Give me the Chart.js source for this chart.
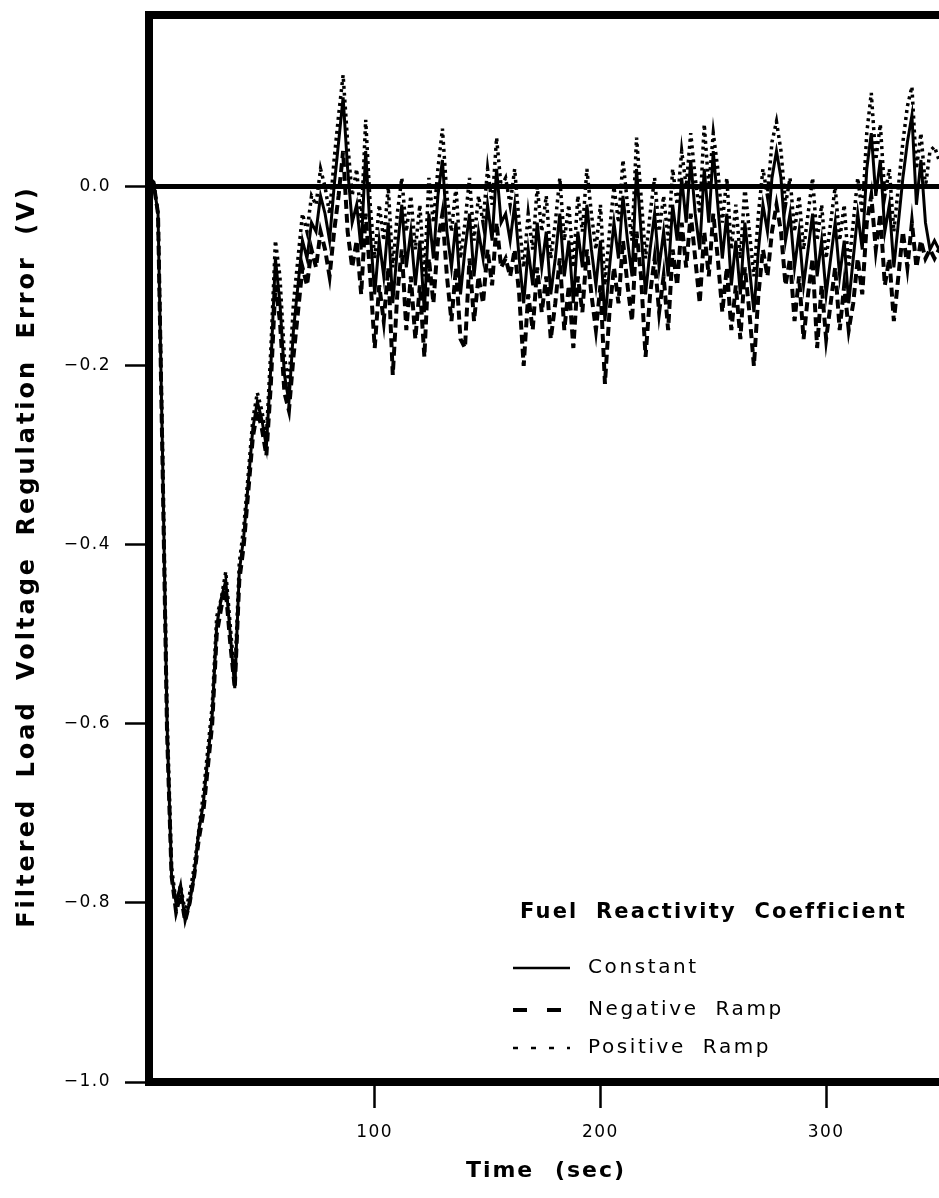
<!DOCTYPE html>
<html>
<head>
<meta charset="utf-8">
<script src="https://cdn.jsdelivr.net/npm/chart.js@4.4.1/dist/chart.umd.min.js"></script>
<style>
  html, body { margin: 0; padding: 0; background: #fff; }
  canvas { display: block; }
</style>
</head>
<body>
<canvas id="grafico" width="939" height="1198"></canvas>
<script>
// tempo (s), uma amostra a cada 2 s
const times = [
  0, 2, 4, 6, 8, 10, 12, 14, 16, 18,
  20, 22, 24, 26, 28, 30, 32, 34, 36, 38,
  40, 42, 44, 46, 48, 50, 52, 54, 56, 58,
  60, 62, 64, 66, 68, 70, 72, 74, 76, 78,
  80, 82, 84, 86, 88, 90, 92, 94, 96, 98,
  100, 102, 104, 106, 108, 110, 112, 114, 116, 118,
  120, 122, 124, 126, 128, 130, 132, 134, 136, 138,
  140, 142, 144, 146, 148, 150, 152, 154, 156, 158,
  160, 162, 164, 166, 168, 170, 172, 174, 176, 178,
  180, 182, 184, 186, 188, 190, 192, 194, 196, 198,
  200, 202, 204, 206, 208, 210, 212, 214, 216, 218,
  220, 222, 224, 226, 228, 230, 232, 234, 236, 238,
  240, 242, 244, 246, 248, 250, 252, 254, 256, 258,
  260, 262, 264, 266, 268, 270, 272, 274, 276, 278,
  280, 282, 284, 286, 288, 290, 292, 294, 296, 298,
  300, 302, 304, 306, 308, 310, 312, 314, 316, 318,
  320, 322, 324, 326, 328, 330, 332, 334, 336, 338,
  340, 342, 344, 346, 348, 350
];

// Constant
const constante = [
  0.01, 0.005, -0.03, -0.30, -0.60, -0.77, -0.80, -0.78, -0.82, -0.80,
  -0.77, -0.72, -0.69, -0.64, -0.59, -0.49, -0.46, -0.44, -0.50, -0.56,
  -0.43, -0.39, -0.33, -0.27, -0.24, -0.26, -0.29, -0.20, -0.08, -0.13,
  -0.21, -0.24, -0.16, -0.11, -0.06, -0.08, -0.04, -0.05, -0.01, -0.03,
  -0.06, 0.00, 0.05, 0.10, 0.02, -0.04, -0.02, -0.07, 0.04, -0.05,
  -0.12, -0.06, -0.10, -0.04, -0.13, -0.07, -0.02, -0.09, -0.05, -0.11,
  -0.06, -0.14, -0.03, -0.08, -0.01, 0.03, -0.05, -0.09, -0.04, -0.12,
  -0.07, -0.03, -0.10, -0.05, -0.08, -0.02, -0.06, 0.02, -0.04, -0.03,
  -0.06, -0.02, -0.08, -0.13, -0.07, -0.11, -0.04, -0.09, -0.05, -0.12,
  -0.08, -0.03, -0.10, -0.06, -0.13, -0.05, -0.09, -0.02, -0.07, -0.11,
  -0.06, -0.15, -0.09, -0.04, -0.08, -0.01, -0.06, -0.10, 0.02, -0.05,
  -0.12, -0.07, -0.03, -0.09, -0.05, -0.10, -0.02, -0.06, 0.01, -0.04,
  0.03, -0.03, -0.07, 0.02, -0.04, 0.04, -0.02, -0.08, -0.03, -0.11,
  -0.06, -0.12, -0.04, -0.09, -0.14, -0.07, -0.02, -0.05, 0.01, 0.04,
  0.01, -0.06, -0.03, -0.09, -0.05, -0.11, -0.07, -0.03, -0.10, -0.06,
  -0.12, -0.08, -0.04, -0.10, -0.06, -0.13, -0.08, -0.03, -0.07, 0.02,
  0.06, -0.01, 0.03, -0.05, -0.02, -0.09, -0.04, 0.01, 0.05, 0.08,
  -0.02, 0.03, -0.04, -0.07, -0.06, -0.07
];

// Negative Ramp
const rampaNeg = [
  0.01, 0.005, -0.03, -0.31, -0.61, -0.77, -0.81, -0.79, -0.82, -0.80,
  -0.77, -0.73, -0.70, -0.65, -0.60, -0.50, -0.47, -0.45, -0.51, -0.56,
  -0.44, -0.40, -0.34, -0.28, -0.25, -0.27, -0.30, -0.22, -0.11, -0.15,
  -0.23, -0.25, -0.19, -0.14, -0.09, -0.11, -0.07, -0.09, -0.05, -0.07,
  -0.10, -0.05, -0.01, 0.04, -0.05, -0.09, -0.06, -0.12, -0.03, -0.10,
  -0.18, -0.11, -0.15, -0.09, -0.21, -0.12, -0.07, -0.16, -0.10, -0.17,
  -0.11, -0.19, -0.08, -0.13, -0.06, -0.03, -0.10, -0.15, -0.09, -0.17,
  -0.18, -0.08, -0.15, -0.10, -0.13, -0.07, -0.11, -0.04, -0.09, -0.08,
  -0.10, -0.07, -0.12, -0.20, -0.12, -0.16, -0.09, -0.14, -0.10, -0.17,
  -0.13, -0.08, -0.16, -0.11, -0.18, -0.10, -0.14, -0.07, -0.12, -0.16,
  -0.11, -0.22, -0.14, -0.09, -0.13, -0.06, -0.11, -0.15, -0.05, -0.10,
  -0.19, -0.12, -0.08, -0.14, -0.10, -0.16, -0.07, -0.11, -0.04, -0.09,
  -0.03, -0.08, -0.13, -0.05, -0.10, -0.03, -0.08, -0.14, -0.09, -0.16,
  -0.11, -0.17, -0.09, -0.14, -0.20, -0.12, -0.07, -0.10, -0.05, -0.02,
  -0.05, -0.11, -0.08, -0.15, -0.10, -0.17, -0.12, -0.08, -0.18, -0.11,
  -0.17, -0.13, -0.09, -0.16, -0.11, -0.16, -0.13, -0.08, -0.12, -0.04,
  -0.01, -0.07, -0.03, -0.11, -0.08, -0.15, -0.10, -0.05, -0.09, -0.04,
  -0.09, -0.06, -0.08, -0.07, -0.08, -0.07
];

// Positive Ramp
const rampaPos = [
  0.01, 0.005, -0.03, -0.29, -0.59, -0.76, -0.80, -0.78, -0.81, -0.79,
  -0.76, -0.72, -0.68, -0.63, -0.58, -0.48, -0.46, -0.43, -0.49, -0.55,
  -0.42, -0.38, -0.32, -0.26, -0.23, -0.25, -0.28, -0.18, -0.06, -0.10,
  -0.19, -0.22, -0.13, -0.08, -0.03, -0.05, -0.01, -0.02, 0.02, 0.00,
  -0.03, 0.03, 0.08, 0.125, 0.05, -0.01, 0.02, -0.04, 0.075, -0.02,
  -0.08, -0.02, -0.06, 0.00, -0.09, -0.03, 0.01, -0.05, -0.01, -0.07,
  -0.02, -0.10, 0.01, -0.04, 0.02, 0.065, -0.01, -0.05, 0.00, -0.08,
  -0.04, 0.01, -0.06, -0.01, -0.04, 0.02, -0.02, 0.055, 0.00, 0.01,
  -0.02, 0.02, -0.04, -0.09, -0.03, -0.07, 0.00, -0.05, -0.01, -0.08,
  -0.04, 0.01, -0.06, -0.02, -0.09, -0.01, -0.05, 0.02, -0.03, -0.07,
  -0.02, -0.11, -0.05, 0.00, -0.04, 0.03, -0.02, -0.06, 0.055, -0.01,
  -0.08, -0.03, 0.01, -0.05, -0.01, -0.06, 0.02, -0.02, 0.04, 0.00,
  0.06, 0.01, -0.03, 0.07, 0.00, 0.06, 0.02, -0.04, 0.01, -0.07,
  -0.02, -0.08, 0.00, -0.05, -0.10, -0.03, 0.02, -0.01, 0.05, 0.073,
  0.04, -0.02, 0.01, -0.05, -0.01, -0.07, -0.03, 0.01, -0.06, -0.02,
  -0.08, -0.04, 0.00, -0.06, -0.02, -0.09, -0.04, 0.01, -0.03, 0.06,
  0.105, 0.03, 0.07, -0.01, 0.02, -0.05, 0.00, 0.05, 0.09, 0.112,
  0.02, 0.06, 0.00, 0.04, 0.045, 0.03
];

const yTicks = [0.0, -0.2, -0.4, -0.6, -0.8, -1.0];
const xTicks = [100, 200, 300];
const seriesNames = ['Constant', 'Negative Ramp', 'Positive Ramp'];
const legendTitle = 'Fuel Reactivity Coefficient';
const xTitle = 'Time (sec)';
const yTitle = 'Filtered Load Voltage Regulation Error (V)';

const fonte = 'DejaVu Sans';

function pontos(valores) {
  return times.map((t, i) => ({ x: t, y: valores[i] }));
}

// texto com espaçamento largo, como no original
function texto(ctx, str, x, y, font, ls, ws) {
  ctx.font = font;
  ctx.letterSpacing = ls + 'px';
  ctx.wordSpacing = ws + 'px';
  ctx.fillText(str, x, y);
}

// moldura grossa (esquerda, topo, base), títulos dos eixos e legenda
const moldura = {
  id: 'moldura',
  beforeDraw(chart) {
    chart.ctx.letterSpacing = '1.5px';
    chart.ctx.wordSpacing = '0px';
  },
  afterDatasetsDraw(chart, args, opts) {
    const { ctx, chartArea: a } = chart;
    ctx.save();
    ctx.strokeStyle = '#000';
    ctx.lineWidth = 8;
    ctx.lineCap = 'square';
    ctx.lineJoin = 'miter';
    ctx.beginPath();
    ctx.moveTo(chart.width + 10, a.top);
    ctx.lineTo(a.left, a.top);
    ctx.lineTo(a.left, a.bottom);
    ctx.lineTo(chart.width + 10, a.bottom);
    ctx.stroke();

    ctx.fillStyle = '#000';
    ctx.textBaseline = 'middle';

    // títulos dos eixos
    ctx.textAlign = 'center';
    texto(ctx, xTitle, (a.left + a.right) / 2 + 2, opts.xTitleY, 'bold 22px "' + fonte + '"', 2, 11);
    ctx.save();
    ctx.translate(opts.yTitleX, (a.top + a.bottom) / 2 + 8);
    ctx.rotate(-Math.PI / 2);
    texto(ctx, yTitle, 0, 0, 'bold 24px "' + fonte + '"', 3, 9);
    ctx.restore();

    // legenda
    ctx.textAlign = 'left';
    texto(ctx, legendTitle, opts.x, opts.y, 'bold 21px "' + fonte + '"', 2.2, 8);
    chart.data.datasets.forEach((ds, i) => {
      const y = opts.rows[i];
      ctx.lineCap = 'butt';
      ctx.lineWidth = opts.widths[i];
      ctx.setLineDash(opts.dashes[i]);
      ctx.beginPath();
      ctx.moveTo(opts.x1, y);
      ctx.lineTo(opts.x2, y);
      ctx.stroke();
      ctx.setLineDash([]);
      texto(ctx, ds.label, opts.tx, y, '20px "' + fonte + '"', 2.6, 8);
    });
    ctx.restore();
  }
};

const ctx = document.getElementById('grafico');

const grafico = new Chart(ctx, {
  type: 'line',
  data: {
    datasets: [{
      label: seriesNames[0],
      data: pontos(constante),
      borderColor: '#000',
      borderWidth: 3,
      pointRadius: 0
    }, {
      label: seriesNames[1],
      data: pontos(rampaNeg),
      borderColor: '#000',
      borderWidth: 4,
      borderDash: [9, 5],
      pointRadius: 0
    }, {
      label: seriesNames[2],
      data: pontos(rampaPos),
      borderColor: '#000',
      borderWidth: 3.5,
      borderDash: [3, 4],
      pointRadius: 0
    }]
  },
  options: {
    responsive: false,
    animation: false,
    devicePixelRatio: 1,
    layout: { padding: { left: 0, top: 15, right: 0, bottom: 0 } },
    plugins: {
      legend: { display: false },
      tooltip: { enabled: false },
      moldura: {
        x: 520, y: 913,
        x1: 513, x2: 570, tx: 588,
        rows: [968, 1010, 1048],
        dashes: [[], [14, 20], [5, 13]],
        widths: [2.5, 4, 2.5],
        xTitleY: 1171,
        yTitleX: 28
      }
    },
    scales: {
      x: {
        type: 'linear',
        min: 0,
        max: 350,
        afterBuildTicks: s => { s.ticks = xTicks.map(v => ({ value: v })); },
        afterFit: s => { s.height = 116; },
        border: { display: false },
        grid: {
          drawOnChartArea: false,
          tickLength: 26,
          tickWidth: 2.5,
          tickColor: '#000'
        },
        ticks: {
          padding: 14,
          color: '#000',
          maxRotation: 0,
          font: { family: fonte, size: 17 }
        },
        title: { display: false }
      },
      y: {
        min: -1.0,
        max: 0.192,
        afterBuildTicks: s => { s.ticks = yTicks.map(v => ({ value: v })); },
        afterFit: s => { s.width = 149; s.paddingTop = 0; s.paddingBottom = 0; },
        border: { display: false },
        grid: {
          color: c => (c.tick && c.tick.value === 0) ? '#000' : 'rgba(0,0,0,0)',
          lineWidth: c => (c.tick && c.tick.value === 0) ? 5 : 1,
          tickLength: 24,
          tickWidth: 2.5,
          tickColor: '#000'
        },
        ticks: {
          padding: 14,
          color: '#000',
          font: { family: fonte, size: 17 },
          callback: v => (v < 0 ? '\u2212' : '') + Math.abs(v).toFixed(1)
        },
        title: { display: false }
      }
    }
  },
  plugins: [moldura]
});
</script>
</body>
</html>
